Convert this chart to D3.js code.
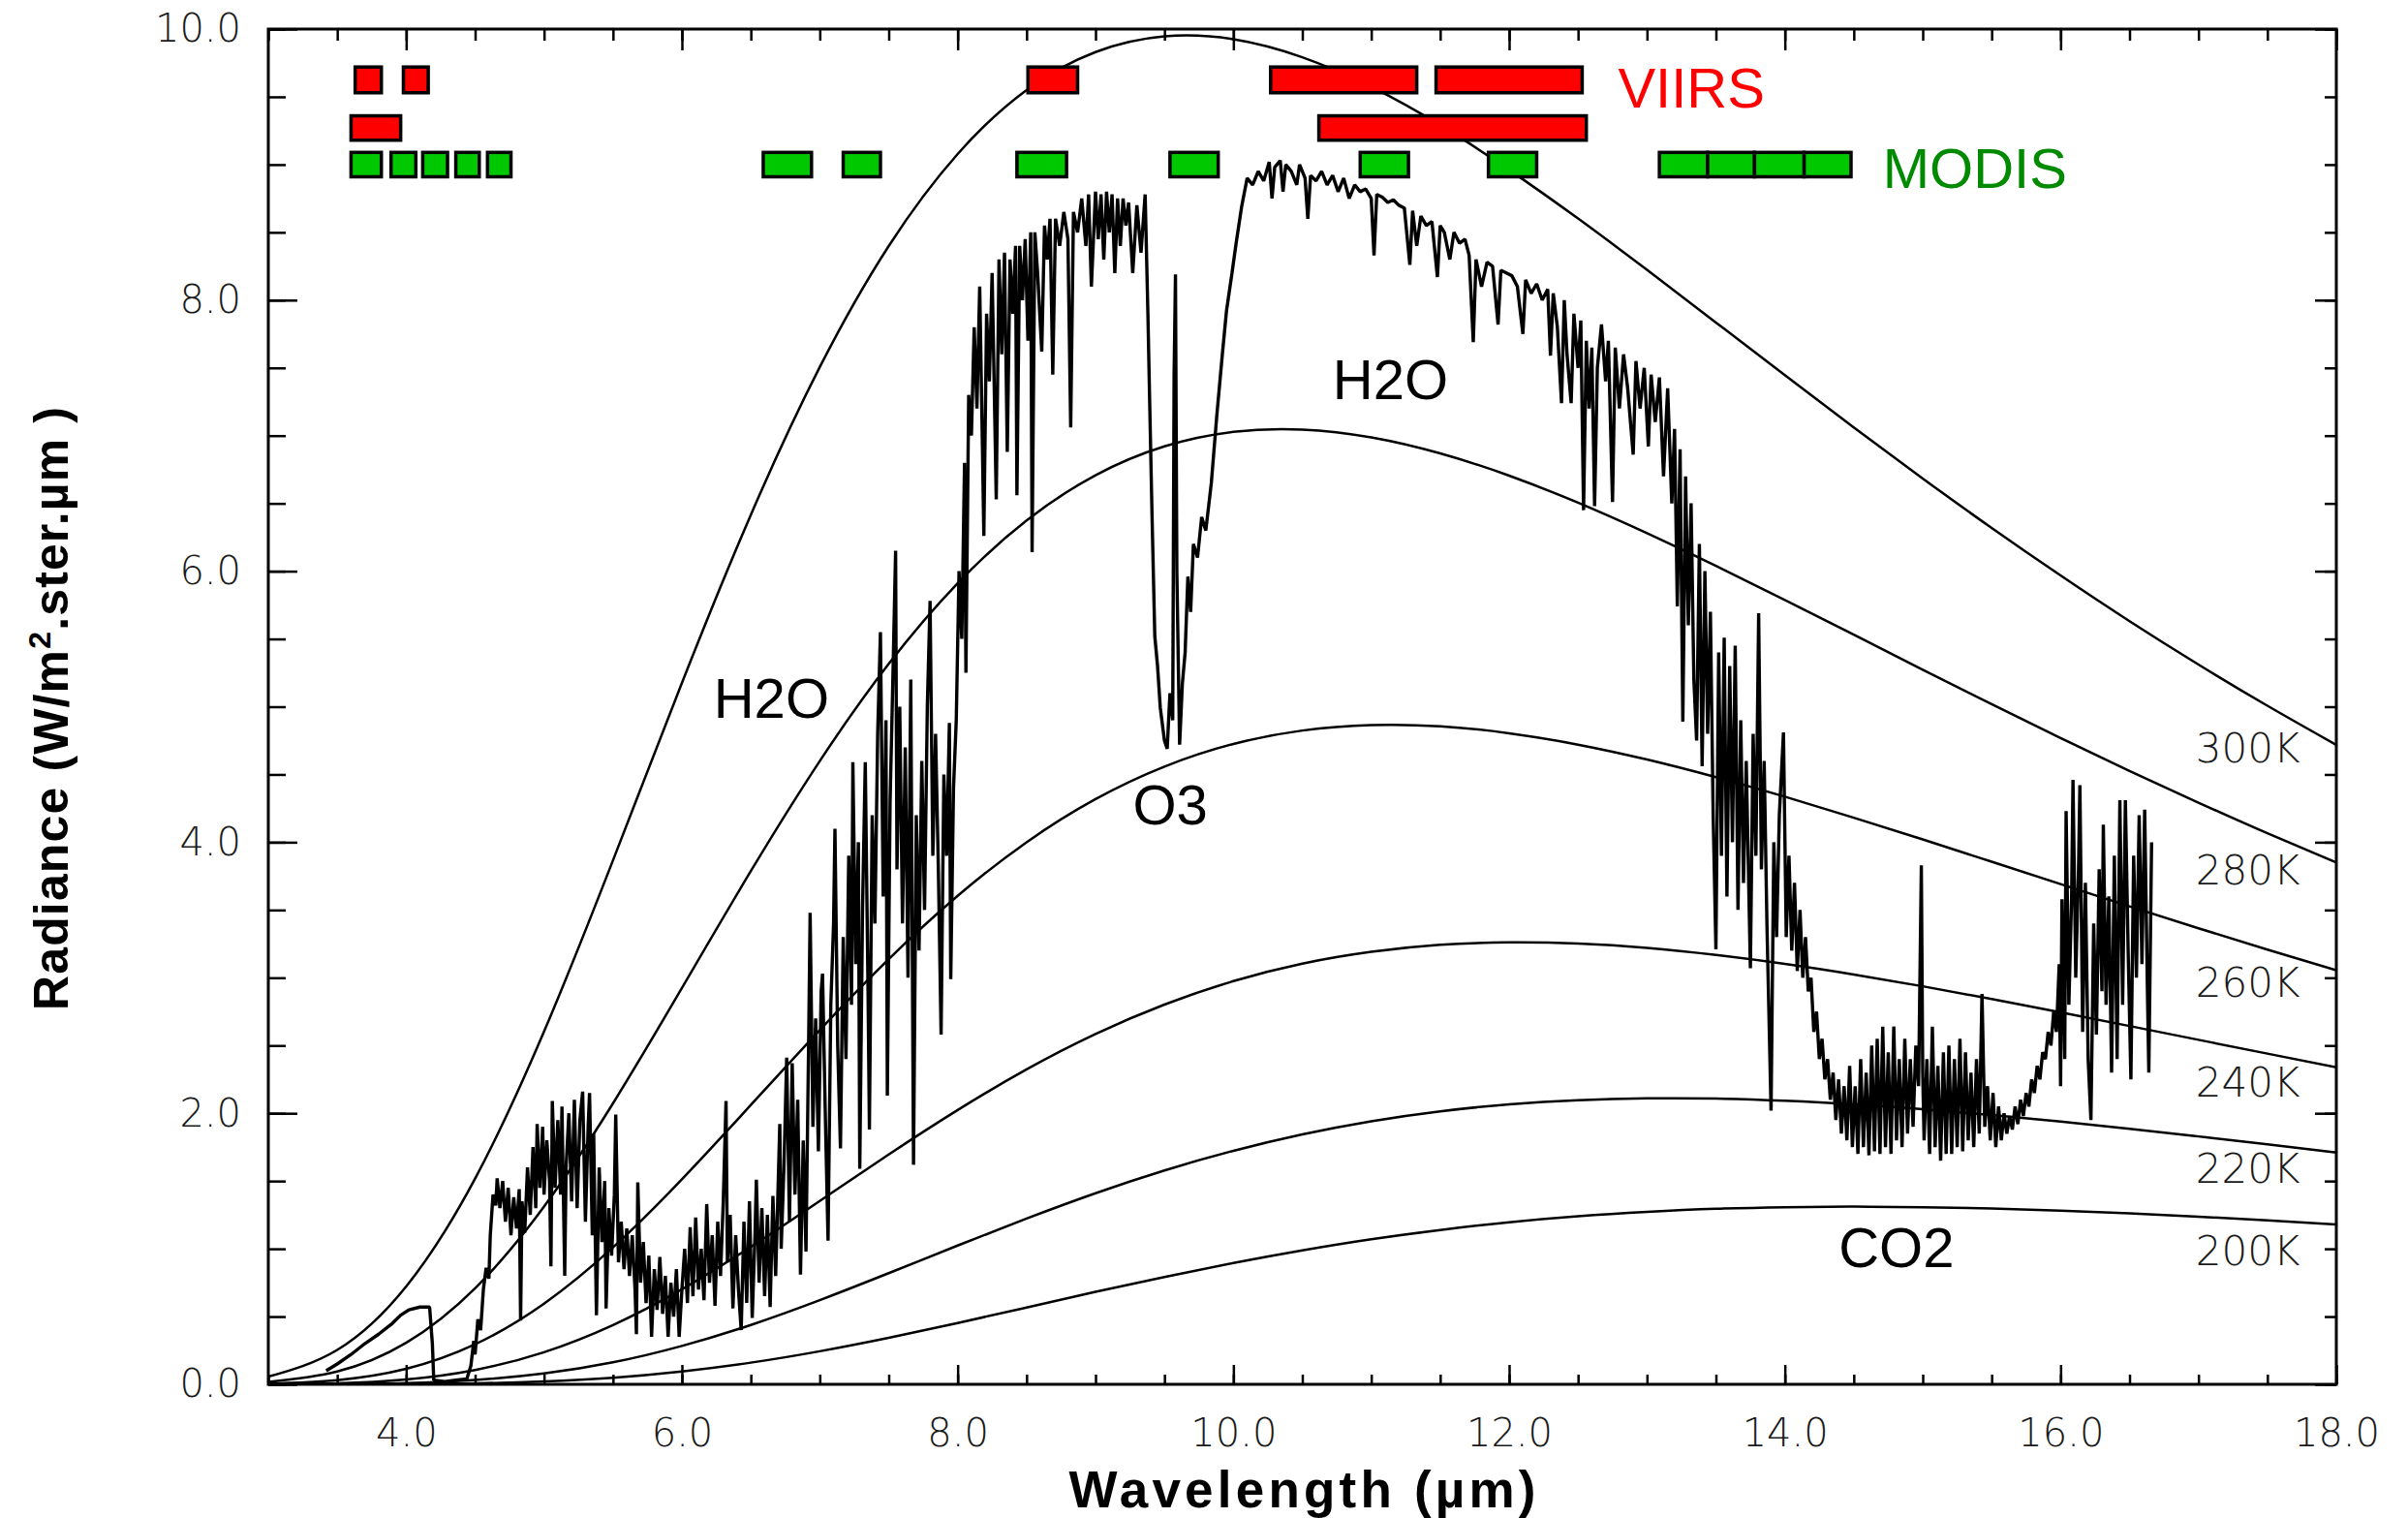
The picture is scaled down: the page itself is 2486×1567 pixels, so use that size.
<!DOCTYPE html>
<html lang="en">
<head>
<meta charset="UTF-8">
<title>Radiance spectrum</title>
<script src="https://cdn.jsdelivr.net/npm/d3@7"></script>
<style>
  body { margin: 0; background: #fff; }
  .tick text { font-family: "DejaVu Sans", sans-serif; font-weight: 200; font-size: 40px; fill: #1a1a1a; }
  .tick line { stroke: #000; stroke-width: 2.5px; }
  .axis-title { font-family: "Liberation Sans", Arial, sans-serif; font-weight: bold; fill: #000; }
  .note { font-family: "Liberation Sans", Arial, sans-serif; font-size: 58px; }
  .temp { font-family: "DejaVu Sans", sans-serif; font-weight: 200; font-size: 42px; fill: #1a1a1a; }
</style>
</head>
<body>
<script>
// blackbody curves, sampled every 0.5 µm
var planckWave = [3,3.5,4,4.5,5,5.5,6,6.5,7,7.5,8,8.5,9,9.5,10,10.5,11,11.5,12,12.5,13,13.5,14,14.5,15,15.5,16,16.5,17,17.5,18];
var bb300 = [0.056,0.254,0.722,1.518,2.603,3.866,5.175,6.416,7.506,8.399,9.078,9.550,9.830,9.946,9.925,9.792,9.573,9.291,8.961,8.602,8.223,7.835,7.446,7.061,6.684,6.319,5.968,5.631,5.311,5.007,4.718];
var bb280 = [0.018,0.095,0.307,0.709,1.312,2.073,2.924,3.787,4.599,5.316,5.911,6.374,6.708,6.921,7.028,7.045,6.987,6.869,6.705,6.505,6.280,6.039,5.787,5.531,5.273,5.018,4.769,4.526,4.292,4.066,3.851];
var bb260 = [0.005,0.031,0.114,0.295,0.595,1.010,1.513,2.061,2.614,3.137,3.604,4.000,4.318,4.558,4.725,4.824,4.864,4.855,4.804,4.720,4.610,4.480,4.336,4.181,4.021,3.856,3.691,3.527,3.365,3.208,3.055];
var bb240 = [0.001,0.008,0.036,0.106,0.237,0.437,0.701,1.014,1.353,1.696,2.024,2.324,2.585,2.802,2.975,3.104,3.191,3.243,3.261,3.252,3.220,3.168,3.102,3.024,2.937,2.843,2.745,2.644,2.542,2.440,2.339];
var bb220 = [0.000,0.002,0.009,0.032,0.080,0.162,0.283,0.438,0.621,0.820,1.024,1.223,1.410,1.578,1.723,1.844,1.941,2.014,2.066,2.097,2.110,2.108,2.092,2.066,2.030,1.987,1.939,1.886,1.829,1.771,1.711];
var bb200 = [0.000,0.000,0.002,0.007,0.022,0.049,0.095,0.160,0.244,0.343,0.452,0.567,0.682,0.792,0.895,0.988,1.070,1.139,1.196,1.240,1.272,1.295,1.307,1.311,1.307,1.297,1.281,1.261,1.237,1.210,1.180];
var tempNames = ["300K","280K","260K","240K","220K","200K"];

// measured spectrum [wavelength µm, radiance]
var specSWIR = [[3.42,0.10],[3.50,0.15],[3.60,0.22],[3.70,0.30],[3.80,0.37],[3.90,0.45],[3.96,0.51],[4.02,0.55],[4.10,0.57],[4.17,0.57],[4.19,0.30],[4.20,0.03],[4.28,0.02],[4.36,0.03],[4.44,0.04],[4.47,0.14],[4.49,0.32],[4.50,0.22],[4.52,0.48],[4.54,0.40],[4.56,0.70],[4.58,0.86],[4.60,0.78],[4.61,1.10],[4.63,1.40],[4.65,1.32]];
var specMWIR = [[4.66,1.52],[4.68,1.30],[4.70,1.50],[4.72,1.20],[4.74,1.45],[4.76,1.10],[4.78,1.38],[4.80,1.15],[4.82,1.44],[4.83,0.47],[4.84,1.35],[4.86,1.12],[4.88,1.60],[4.90,1.25],[4.92,1.75],[4.94,1.30],[4.95,1.92],[4.97,1.45],[4.99,1.90],[5.00,1.40],[5.02,1.80],[5.04,1.50],[5.05,0.87],[5.06,2.09],[5.08,1.45],[5.10,1.95],[5.12,1.40],[5.13,2.05],[5.15,0.80],[5.16,1.60],[5.18,2.00],[5.20,1.35],[5.22,2.10],[5.24,1.30],[5.26,1.95],[5.28,2.16],[5.30,1.20],[5.32,1.90],[5.33,2.15],[5.35,1.10],[5.36,1.85],[5.38,0.51],[5.40,1.60],[5.42,1.05],[5.44,1.50],[5.45,0.56],[5.47,1.30],[5.49,0.95],[5.51,1.40],[5.52,1.99],[5.54,0.90],[5.56,1.20],[5.58,0.85],[5.60,1.15],[5.62,0.80],[5.64,1.10],[5.66,0.70],[5.67,0.37],[5.68,1.49],[5.70,0.75],[5.72,1.05],[5.74,0.60],[5.76,0.95],[5.78,0.35],[5.80,0.85],[5.82,0.55],[5.84,0.94],[5.86,0.52],[5.88,0.80],[5.90,0.35],[5.92,0.75],[5.94,0.50],[5.96,0.85],[5.98,0.35],[6.00,0.70],[6.02,1.00],[6.04,0.60],[6.06,1.16],[6.08,0.65],[6.10,1.23],[6.12,0.70],[6.14,1.00],[6.16,0.62],[6.18,1.33],[6.20,0.75],[6.22,1.10],[6.24,0.58],[6.26,1.20],[6.28,0.80],[6.30,1.35],[6.32,2.09],[6.33,0.90],[6.35,1.25],[6.37,0.56],[6.39,1.10],[6.41,0.70],[6.43,0.40],[6.45,1.20],[6.47,0.60],[6.49,1.35],[6.51,0.49],[6.53,1.10],[6.54,1.51],[6.56,0.75],[6.58,1.30],[6.60,0.65],[6.62,1.25],[6.64,0.57],[6.66,1.39],[6.68,0.80],[6.71,1.92],[6.72,1.00],[6.74,1.60],[6.76,2.41],[6.78,1.20],[6.80,2.37],[6.82,1.40],[6.84,2.10],[6.86,0.81],[6.88,1.80],[6.90,0.98],[6.92,2.60],[6.93,3.48],[6.95,1.90],[6.97,2.70],[6.99,1.72],[7.01,2.90],[7.02,3.03],[7.04,2.00],[7.06,1.06],[7.08,2.80],[7.10,3.40],[7.11,4.10],[7.13,2.50],[7.15,1.74],[7.17,3.30],[7.19,2.40],[7.21,3.90],[7.23,2.80],[7.24,4.59],[7.26,3.10],[7.28,4.00],[7.29,1.59],[7.31,3.50],[7.33,4.59],[7.35,2.90],[7.36,1.88],[7.38,4.20],[7.40,3.40],[7.42,4.80],[7.44,5.55],[7.46,3.60],[7.48,4.90],[7.49,2.13],[7.51,4.30],[7.53,5.20],[7.55,6.15],[7.56,3.80],[7.58,5.00],[7.60,3.40],[7.62,4.70],[7.64,3.00],[7.66,5.20],[7.68,1.62],[7.70,4.20],[7.72,3.20],[7.74,4.60],[7.76,3.50],[7.78,5.00],[7.80,5.78],[7.82,3.90],[7.84,4.80],[7.86,3.81],[7.88,2.58],[7.90,4.50],[7.92,3.90],[7.94,4.88],[7.95,2.99],[7.97,4.40],[7.99,4.90]];
var specLWIR = [[8.01,6.00],[8.03,5.50],[8.05,6.80],[8.06,5.25],[8.08,7.30],[8.10,7.00],[8.12,7.80],[8.14,7.20],[8.16,8.10],[8.18,6.90],[8.19,6.26],[8.21,7.90],[8.23,7.40],[8.25,8.20],[8.27,7.10],[8.28,6.53],[8.30,8.30],[8.32,7.60],[8.34,8.35],[8.36,6.88],[8.38,8.30],[8.40,7.90],[8.42,8.40],[8.43,6.56],[8.45,8.40],[8.47,8.00],[8.49,8.45],[8.51,7.70],[8.53,8.50],[8.54,6.14],[8.56,8.50],[8.58,8.20],[8.61,7.62],[8.63,8.55],[8.65,8.30],[8.67,8.60],[8.69,7.45],[8.71,8.60],[8.74,8.40],[8.77,8.65],[8.80,8.45],[8.82,7.06],[8.84,8.65],[8.87,8.50],[8.90,8.75],[8.93,8.40],[8.95,8.78],[8.97,8.10],[9.00,8.80],[9.02,8.45],[9.04,8.78],[9.06,8.30],[9.08,8.80],[9.10,8.50],[9.12,8.78],[9.14,8.20],[9.16,8.75],[9.18,8.40],[9.20,8.75],[9.22,8.55],[9.24,8.72],[9.27,8.20],[9.30,8.70],[9.33,8.35],[9.36,8.78],[9.38,7.90],[9.39,7.39],[9.41,6.41],[9.43,5.52],[9.45,5.30],[9.47,4.99],[9.50,4.75],[9.52,4.69],[9.54,5.10],[9.56,4.90],[9.57,7.45],[9.58,8.19],[9.59,6.00],[9.61,4.72],[9.63,5.17],[9.65,5.40],[9.67,5.96],[9.69,5.70],[9.71,6.20],[9.74,6.10],[9.77,6.40],[9.80,6.30],[9.84,6.65],[9.88,7.15],[9.92,7.60],[9.95,7.92],[9.99,8.20],[10.02,8.42],[10.06,8.69],[10.10,8.90],[10.14,8.85],[10.18,8.95],[10.22,8.88],[10.26,9.02],[10.28,8.75],[10.30,8.98],[10.34,9.03],[10.36,8.80],[10.38,9.00],[10.42,8.95],[10.46,8.85],[10.48,9.00],[10.52,8.90],[10.54,8.60],[10.56,8.92],[10.60,8.88],[10.64,8.95],[10.68,8.85],[10.72,8.92],[10.76,8.80],[10.80,8.90],[10.84,8.75],[10.88,8.85],[10.92,8.80],[10.96,8.82],[11.00,8.75],[11.02,8.33],[11.04,8.78],[11.08,8.76],[11.12,8.72],[11.16,8.74],[11.20,8.70],[11.24,8.68],[11.28,8.26],[11.30,8.66],[11.33,8.40],[11.36,8.62],[11.40,8.55],[11.44,8.58],[11.48,8.17],[11.50,8.55],[11.53,8.50],[11.57,8.30],[11.60,8.50],[11.64,8.42],[11.68,8.45],[11.71,8.33],[11.74,7.69],[11.76,8.30],[11.80,8.10],[11.84,8.28],[11.88,8.25],[11.92,7.82],[11.94,8.22],[11.98,8.20],[12.02,8.18],[12.06,8.10],[12.10,7.75],[12.12,8.15],[12.16,8.05],[12.20,8.12],[12.24,8.00],[12.28,8.08],[12.30,7.59],[12.32,8.05],[12.35,7.80],[12.38,7.24],[12.40,8.00],[12.42,7.60],[12.45,7.24],[12.47,7.90],[12.50,7.50],[12.52,7.85],[12.54,6.45],[12.56,7.70],[12.58,7.20],[12.60,7.65],[12.62,6.48],[12.64,7.50],[12.67,7.82],[12.70,7.40],[12.72,7.70],[12.75,6.51],[12.77,7.65],[12.80,7.20],[12.83,7.60],[12.86,7.35],[12.90,6.86],[12.92,7.55],[12.95,7.20],[12.98,7.50],[13.01,6.92],[13.03,7.45],[13.06,7.10],[13.09,7.43],[13.12,6.70],[13.15,7.35],[13.18,6.50]];
var specCO2 = [[13.20,7.05],[13.22,5.74],[13.24,6.90],[13.26,4.89],[13.28,6.70],[13.30,5.60],[13.32,6.50],[13.34,5.20],[13.36,4.75],[13.38,6.20],[13.40,4.56],[13.42,6.00],[13.44,4.80],[13.46,5.70],[13.48,4.20],[13.50,3.21],[13.52,5.40],[13.54,3.90],[13.56,5.51],[13.58,3.60],[13.60,5.30],[13.62,4.00],[13.64,5.45],[13.66,3.50],[13.68,4.90],[13.70,3.70],[13.72,4.60],[13.75,3.07],[13.77,4.80],[13.79,3.90],[13.81,5.69],[13.83,3.80],[13.85,4.60],[13.87,3.40],[13.90,2.02],[13.92,4.00],[13.94,3.30],[13.96,4.20],[13.99,4.81],[14.01,3.30],[14.03,3.90],[14.05,3.20],[14.07,3.70],[14.09,3.05],[14.11,3.50],[14.13,3.00],[14.15,3.30],[14.17,2.90],[14.19,3.00],[14.21,2.60],[14.23,2.75],[14.25,2.40],[14.27,2.55],[14.29,2.25],[14.31,2.40],[14.33,2.10],[14.35,2.30],[14.37,1.95],[14.39,2.25],[14.41,1.85],[14.43,2.20],[14.45,1.80],[14.47,2.35],[14.49,1.75],[14.51,2.20],[14.53,1.70],[14.55,2.40],[14.57,1.75],[14.59,2.30],[14.61,1.69],[14.63,2.50],[14.65,1.72],[14.67,2.55],[14.69,1.70],[14.71,2.64],[14.73,1.75],[14.75,2.45],[14.77,1.70],[14.79,2.64],[14.81,1.80],[14.83,2.40],[14.85,1.75],[14.87,2.55],[14.89,1.85],[14.91,2.40],[14.93,1.90],[14.95,2.50],[14.97,2.20],[14.99,3.83],[15.00,2.30],[15.01,1.80],[15.03,2.40],[15.05,1.70],[15.07,2.64],[15.09,1.75],[15.11,2.35],[15.13,1.65],[15.15,2.45],[15.17,1.70],[15.19,2.50],[15.21,1.70],[15.23,2.40],[15.25,1.75],[15.27,2.55],[15.29,1.72],[15.31,2.45],[15.33,1.80],[15.35,2.30],[15.37,1.75],[15.39,2.40],[15.41,1.85],[15.43,2.88],[15.45,1.90],[15.47,2.20],[15.49,1.80],[15.51,2.15],[15.53,1.75],[15.55,2.05],[15.57,1.80],[15.59,2.00],[15.61,1.85],[15.63,1.98],[15.65,1.88],[15.67,2.05],[15.69,1.92],[15.71,2.10],[15.73,1.98],[15.75,2.15],[15.77,2.05],[15.79,2.25],[15.81,2.15],[15.83,2.35],[15.85,2.25],[15.87,2.45],[15.89,2.40],[15.91,2.60],[15.93,2.50],[15.95,2.75],[15.97,2.60],[15.99,3.10],[16.00,2.20],[16.01,3.58],[16.03,2.40],[16.04,4.23],[16.06,2.80],[16.08,3.60],[16.09,4.46],[16.11,3.00],[16.13,3.80],[16.14,4.42],[16.16,2.60],[16.18,3.70],[16.20,2.40],[16.22,1.95],[16.24,3.40],[16.26,2.58],[16.28,3.80],[16.30,2.90],[16.31,4.13],[16.33,2.80],[16.35,3.60],[16.37,2.30],[16.39,3.90],[16.41,2.40],[16.43,4.31],[16.45,2.80],[16.47,4.31],[16.49,3.20],[16.51,2.25],[16.53,3.90],[16.55,3.00],[16.57,4.20],[16.59,3.10],[16.61,4.24],[16.63,2.90],[16.64,2.30],[16.66,4.00]];

// instrument bands [from, to] in µm
var viirsRow1 = [[3.63,3.82],[3.98,4.16],[8.51,8.87],[10.27,11.33],[11.47,12.53]];
var viirsRow2 = [[3.60,3.96],[10.62,12.56]];
var modisBands = [[3.60,3.82],[3.89,4.07],[4.12,4.30],[4.36,4.53],[4.59,4.76],[6.59,6.94],[7.17,7.44],[8.43,8.79],[9.54,9.89],[10.92,11.27],[11.85,12.20],[13.09,13.44],[13.44,13.78],[13.78,14.14],[14.14,14.48]];

var xTicks = [4,6,8,10,12,14,16,18];
var yTicks = [0,2,4,6,8,10];

var width = 2486, height = 1567;
var margin = {left: 277, right: 74, top: 30, bottom: 138};

var svg = d3.select("body").append("svg")
  .attr("width", width)
  .attr("height", height)
  .style("display", "block");

svg.append("rect").attr("width", width).attr("height", height).attr("fill", "#fff");

var x = d3.scaleLinear().domain([3, 18]).range([margin.left, width - margin.right]);
var y = d3.scaleLinear().domain([0, 10]).range([height - margin.bottom, margin.top]);

svg.append("clipPath").attr("id", "plot")
  .append("rect")
  .attr("x", x(3)).attr("y", y(10))
  .attr("width", x(18) - x(3)).attr("height", y(0) - y(10));

var plot = svg.append("g").attr("clip-path", "url(#plot)");

// blackbody curves
var curves = [bb300, bb280, bb260, bb240, bb220, bb200];
var smooth = d3.line().x(function(d) { return x(d[0]); }).y(function(d) { return y(d[1]); }).curve(d3.curveNatural);
curves.forEach(function(c) {
  plot.append("path")
    .attr("d", smooth(d3.zip(planckWave, c)))
    .attr("fill", "none")
    .attr("stroke", "#000")
    .attr("stroke-width", 2.5);
});

// spectrum
var spec = specSWIR.concat(specMWIR, specLWIR, specCO2);
var jag = d3.line().x(function(d) { return x(d[0]); }).y(function(d) { return y(d[1]); });
plot.append("path")
  .attr("d", jag(spec))
  .attr("fill", "none")
  .attr("stroke", "#000")
  .attr("stroke-width", 3.4)
  .attr("stroke-linejoin", "bevel");

// band boxes
function bands(data, top, bottom, color) {
  svg.append("g").selectAll("rect")
    .data(data)
    .enter().append("rect")
    .attr("x", function(d) { return x(d[0]); })
    .attr("width", function(d) { return x(d[1]) - x(d[0]); })
    .attr("y", y(top))
    .attr("height", y(bottom) - y(top))
    .attr("fill", color)
    .attr("stroke", "#000")
    .attr("stroke-width", 3.5);
}
bands(viirsRow1, 9.72, 9.53, "#ff0000");
bands(viirsRow2, 9.36, 9.18, "#ff0000");
bands(modisBands, 9.09, 8.91, "#00c800");

// axes, ticks pointing inward
var minor = d3.range(3, 18.01, 0.5);
var minorY = d3.range(0, 10.01, 0.5);
var fmt = d3.format(".1f");

function axisG(axis, tx, ty) {
  var g = svg.append("g").attr("transform", "translate(" + tx + "," + ty + ")").call(axis);
  g.select(".domain").remove();
  g.attr("font-family", null).attr("font-size", null);
  return g;
}

axisG(d3.axisBottom(x).tickValues(minor).tickSizeInner(-10).tickSizeOuter(0).tickFormat(""), 0, y(0));
axisG(d3.axisBottom(x).tickValues(xTicks).tickSizeInner(-20).tickSizeOuter(0).tickPadding(36).tickFormat(fmt), 0, y(0));
axisG(d3.axisTop(x).tickValues(minor).tickSizeInner(-12).tickSizeOuter(0).tickFormat(""), 0, y(10));
axisG(d3.axisTop(x).tickValues(xTicks).tickSizeInner(-22).tickSizeOuter(0).tickFormat(""), 0, y(10));
axisG(d3.axisLeft(y).tickValues(minorY).tickSizeInner(-18).tickSizeOuter(0).tickFormat(""), x(3), 0);
axisG(d3.axisLeft(y).tickValues(yTicks).tickSizeInner(-30).tickSizeOuter(0).tickPadding(28).tickFormat(fmt), x(3), 0);
axisG(d3.axisRight(y).tickValues(minorY).tickSizeInner(-12).tickSizeOuter(0).tickFormat(""), x(18), 0);
axisG(d3.axisRight(y).tickValues(yTicks).tickSizeInner(-22).tickSizeOuter(0).tickFormat(""), x(18), 0);

svg.append("rect")
  .attr("x", x(3)).attr("y", y(10))
  .attr("width", x(18) - x(3)).attr("height", y(0) - y(10))
  .attr("fill", "none")
  .attr("stroke", "#000")
  .attr("stroke-width", 3);

// axis titles
svg.append("text")
  .attr("class", "axis-title")
  .attr("x", (x(3) + x(18)) / 2)
  .attr("y", 1556)
  .attr("text-anchor", "middle")
  .attr("font-size", 53)
  .attr("textLength", 482)
  .attr("lengthAdjust", "spacing")
  .text("Wavelength (\u00b5m)");

var yt = svg.append("text")
  .attr("class", "axis-title")
  .attr("transform", "translate(70," + ((y(0) + y(10)) / 2 + 2) + ") rotate(-90)")
  .attr("text-anchor", "middle")
  .attr("font-size", 50)
  .attr("textLength", 623)
  .attr("lengthAdjust", "spacing");
yt.append("tspan").text("Radiance (W/m");
yt.append("tspan").attr("dy", -18).attr("font-size", 32).text("2");
yt.append("tspan").attr("dy", 18).text(".ster.\u00b5m )");

// temperature labels at the right end of each curve
var tempY = [4.59, 3.69, 2.86, 2.12, 1.49, 0.88];
svg.append("g").selectAll("text")
  .data(tempNames)
  .enter().append("text")
  .attr("class", "temp")
  .attr("x", x(16.98))
  .attr("y", function(d, i) { return y(tempY[i]); })
  .text(function(d) { return d; });

// absorber labels
var notes = [
  {t: "H2O", w: 6.23, r: 4.92, c: "#000"},
  {t: "H2O", w: 10.72, r: 7.27, c: "#000"},
  {t: "O3", w: 9.27, r: 4.13, c: "#000"},
  {t: "CO2", w: 14.39, r: 0.865, c: "#000"},
  {t: "VIIRS", w: 12.79, r: 9.42, c: "#ff0000"},
  {t: "MODIS", w: 14.71, r: 8.83, c: "#008a00"}
];
svg.append("g").selectAll("text")
  .data(notes)
  .enter().append("text")
  .attr("class", "note")
  .attr("x", function(d) { return x(d.w); })
  .attr("y", function(d) { return y(d.r); })
  .attr("fill", function(d) { return d.c; })
  .text(function(d) { return d.t; });
</script>
</body>
</html>
